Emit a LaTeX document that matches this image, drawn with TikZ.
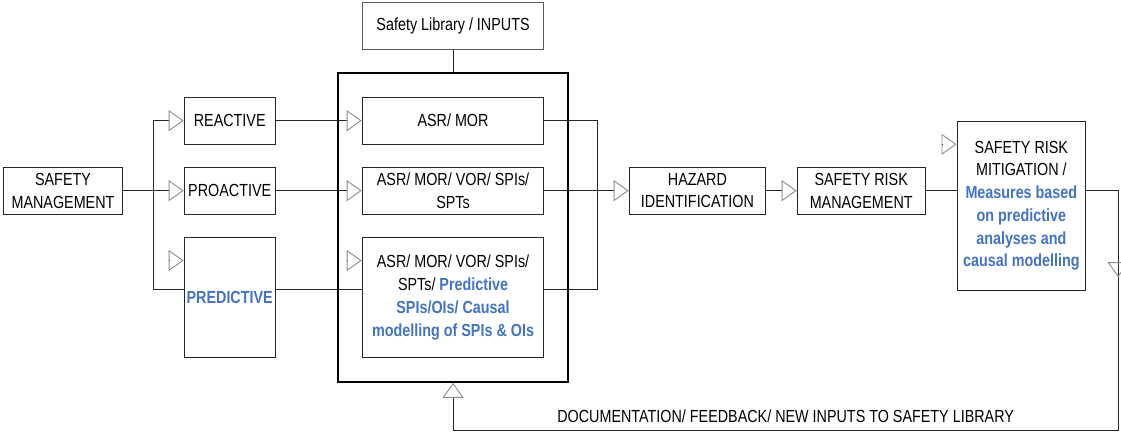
\documentclass[tikz,border=0pt]{standalone}
\usepackage{fontspec}
\setmainfont{Liberation Sans}[FakeStretch=0.82]
\usetikzlibrary{arrows.meta, positioning, fit}
\definecolor{predblue}{HTML}{4472C4}

\begin{document}
\begin{tikzpicture}[
    node distance=22pt and 60.5pt,
    font=\fontsize{17.5}{22.7}\selectfont,
    box/.style={rectangle, draw=black!85, line width=1pt, align=center, inner sep=0pt, minimum height=47pt},
    wire/.style={draw=black!85, line width=0.9pt},
    arrow/.style={wire, -{Triangle[open, length=15pt, width=21pt, color=black!45]}},
    tri/.style={-{Triangle[open, length=15pt, width=21pt, color=black!45]}, line width=0.9pt}
]
\useasboundingbox (0,0) rectangle (1121pt,-431pt);

% Left: management and its three branches
\node[box, minimum width=119.4pt, minimum height=46.7pt] (sm) at (63pt,-190.7pt) {SAFETY\\MANAGEMENT};
\node[box, minimum width=91pt, right=of sm] (proact) {PROACTIVE};
\node[box, minimum width=91pt, above=of proact] (react) {REACTIVE};
\node[box, minimum width=91pt, minimum height=120.6pt, below=of proact] (pred) {\textcolor{predblue}{\textbf{PREDICTIVE}}};

% Centre: data sources inside the frame
\node[box, minimum width=181.7pt, right=86pt of react] (asr1) {ASR/ MOR};
\node[box, minimum width=181.7pt, right=86pt of proact] (asr2) {ASR/ MOR/ VOR/ SPIs/\\SPTs};
\node[box, minimum width=181.7pt, minimum height=120.6pt, right=86pt of pred] (asr3) {ASR/ MOR/ VOR/ SPIs/\\SPTs/ \textcolor{predblue}{\textbf{Predictive}}\\\textcolor{predblue}{\textbf{SPIs/OIs/ Causal}}\\\textcolor{predblue}{\textbf{modelling of SPIs \& OIs}}};
\node[draw=black, line width=2pt, inner sep=23.5pt, fit=(asr1) (asr3)] (frame) {};
\node[box, minimum width=181.4pt, draw=black!65, above=46.6pt of asr1] (lib) {Safety Library / INPUTS};

% Right: risk process
\node[box, minimum width=136.4pt, right=84.3pt of asr2] (haz) {HAZARD\\IDENTIFICATION};
\node[box, minimum width=128pt, right=30.6pt of haz] (srm) {SAFETY RISK\\MANAGEMENT};
\node[box, minimum width=128.7pt, minimum height=169pt, right=30.8pt of srm, yshift=-15pt] (mitig) {SAFETY RISK\\MITIGATION /\\\textcolor{predblue}{\textbf{Measures based}}\\\textcolor{predblue}{\textbf{on predictive}}\\\textcolor{predblue}{\textbf{analyses and}}\\\textcolor{predblue}{\textbf{causal modelling}}};

% Branching
\path (sm.east) -- coordinate[midway] (split) (proact.west);
\draw[arrow] (sm) -- (proact);
\draw[arrow] (split) |- (react);
\draw[wire] (split) |- ([yshift=7.7pt]pred.west);
\draw[arrow] (react) -- (asr1);
\draw[arrow] (proact) -- (asr2);
\draw[wire] ([yshift=7.7pt]pred.east) -- ([yshift=7.7pt]asr3.west);
\draw[wire] (lib.south) -- (lib.south |- frame.north);

% Joining into hazard identification
\coordinate (join) at ([xshift=53.3pt]asr2.east);
\draw[wire] (asr1.east) -| (join);
\draw[wire] ([yshift=7.7pt]asr3.east) -| (join);
\draw[arrow] (asr2) -- (haz);
\draw[arrow] (haz) -- (srm);
\draw[wire] (srm) -- (srm -| mitig.west);

% Loose triangles
\draw[tri] ([xshift=-15pt,yshift=-23.8pt]pred.north west) -- ([yshift=-23.8pt]pred.north west);
\draw[tri] ([xshift=-15pt,yshift=-23.8pt]asr3.north west) -- ([yshift=-23.8pt]asr3.north west);
\draw[tri] ([xshift=-15pt,yshift=-23.6pt]mitig.north west) -- ([yshift=-23.6pt]mitig.north west);

% Feedback loop
\coordinate (edge) at ([xshift=32pt]mitig.east);
\coordinate (back) at ([yshift=-47.5pt]frame.south);
\draw[arrow] (mitig.east |- srm) -| (edge |- back) -| node[pos=0.25, above=4pt] {DOCUMENTATION/ FEEDBACK/ NEW INPUTS TO SAFETY LIBRARY} (frame.south);
\draw[tri] ([yshift=-56.5pt]edge) -- ([yshift=-71.5pt]edge);

\end{tikzpicture}
\end{document}
